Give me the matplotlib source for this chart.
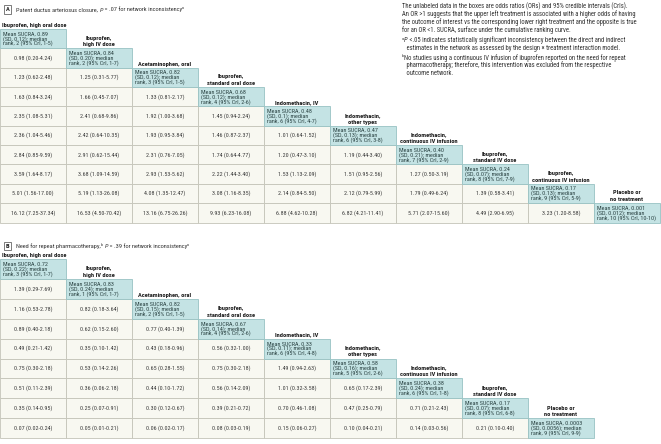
import matplotlib
matplotlib.use("Agg")
import matplotlib.pyplot as plt
from matplotlib.patches import Rectangle
from matplotlib import font_manager

entries = font_manager.fontManager.ttflist
names = set(f.name for f in entries)
STRETCH = 'normal'
FONT = 'DejaVu Sans'
for cand in ['Liberation Sans Narrow', 'Roboto Condensed', 'Open Sans Condensed', 'Noto Sans Condensed']:
    if cand in names:
        FONT = cand
        break
else:
    if any(f.name == 'DejaVu Sans' and str(f.stretch) in ('condensed', 'semi-condensed', '87.5', '75')
           for f in entries):
        STRETCH = 'condensed'

plt.rcParams['font.family'] = [FONT, 'DejaVu Sans']
plt.rcParams['font.stretch'] = STRETCH

# ---------------- data ----------------
treat_A = ["Ibuprofen, high oral dose", "Ibuprofen,\nhigh IV dose", "Acetaminophen, oral",
           "Ibuprofen,\nstandard oral dose", "Indomethacin, IV", "Indomethacin,\nother types",
           "Indomethacin,\ncontinuous IV infusion", "Ibuprofen,\nstandard IV dose",
           "Ibuprofen,\ncontinuous IV infusion", "Placebo or\nno treatment"]
sucra_A = ["0.89", "0.84", "0.82", "0.68", "0.48", "0.47", "0.40", "0.24", "0.17", "0.001"]
sd_A = ["0.12", "0.20", "0.12", "0.12", "0.1", "0.13", "0.21", "0.07", "0.13", "0.012"]
rank_A = [2, 2, 3, 4, 6, 6, 7, 8, 9, 10]
rank_lo_A = [1, 1, 1, 2, 4, 3, 2, 7, 5, 10]
rank_hi_A = [5, 7, 5, 6, 7, 8, 9, 9, 9, 10]
or_A = [
    [(0.98, 0.20, 4.24)],
    [(1.23, 0.62, 2.48), (1.25, 0.31, 5.77)],
    [(1.63, 0.84, 3.24), (1.66, 0.45, 7.07), (1.33, 0.81, 2.17)],
    [(2.35, 1.08, 5.31), (2.41, 0.68, 9.86), (1.92, 1.00, 3.68), (1.45, 0.94, 2.24)],
    [(2.36, 1.04, 5.46), (2.42, 0.64, 10.35), (1.93, 0.95, 3.84), (1.46, 0.87, 2.37), (1.01, 0.64, 1.52)],
    [(2.84, 0.85, 9.59), (2.91, 0.62, 15.44), (2.31, 0.76, 7.05), (1.74, 0.64, 4.77), (1.20, 0.47, 3.10),
     (1.19, 0.44, 3.40)],
    [(3.59, 1.64, 8.17), (3.68, 1.09, 14.59), (2.93, 1.53, 5.62), (2.22, 1.44, 3.40), (1.53, 1.13, 2.09),
     (1.51, 0.95, 2.56), (1.27, 0.50, 3.19)],
    [(5.01, 1.56, 17.00), (5.19, 1.13, 26.08), (4.08, 1.35, 12.47), (3.08, 1.16, 8.35), (2.14, 0.84, 5.50),
     (2.12, 0.79, 5.99), (1.79, 0.49, 6.24), (1.39, 0.58, 3.41)],
    [(16.12, 7.25, 37.34), (16.53, 4.50, 70.42), (13.16, 6.75, 26.26), (9.93, 6.23, 16.08), (6.88, 4.62, 10.28),
     (6.82, 4.21, 11.41), (5.71, 2.07, 15.60), (4.49, 2.90, 6.95), (3.23, 1.20, 8.58)],
]

treat_B = ["Ibuprofen, high oral dose", "Ibuprofen,\nhigh IV dose", "Acetaminophen, oral",
           "Ibuprofen,\nstandard oral dose", "Indomethacin, IV", "Indomethacin,\nother types",
           "Indomethacin,\ncontinuous IV infusion", "Ibuprofen,\nstandard IV dose",
           "Placebo or\nno treatment"]
sucra_B = ["0.72", "0.83", "0.82", "0.67", "0.33", "0.58", "0.38", "0.17", "0.0003"]
sd_B = ["0.22", "0.24", "0.15", "0.14", "0.11", "0.16", "0.24", "0.07", "0.0056"]
rank_B = [3, 1, 2, 4, 6, 5, 6, 8, 9]
rank_lo_B = [1, 1, 1, 2, 4, 2, 1, 6, 9]
rank_hi_B = [7, 7, 5, 6, 8, 6, 8, 8, 9]
or_B = [
    [(1.39, 0.29, 7.69)],
    [(1.16, 0.53, 2.78), (0.82, 0.18, 3.64)],
    [(0.89, 0.40, 2.18), (0.62, 0.15, 2.60), (0.77, 0.40, 1.39)],
    [(0.49, 0.21, 1.42), (0.35, 0.10, 1.42), (0.43, 0.18, 0.96), (0.56, 0.32, 1.00)],
    [(0.75, 0.30, 2.18), (0.53, 0.14, 2.26), (0.65, 0.28, 1.55), (0.75, 0.30, 2.18), (1.49, 0.94, 2.63)],
    [(0.51, 0.11, 2.39), (0.36, 0.06, 2.18), (0.44, 0.10, 1.72), (0.56, 0.14, 2.09), (1.01, 0.32, 3.58),
     (0.65, 0.17, 2.39)],
    [(0.35, 0.14, 0.95), (0.25, 0.07, 0.91), (0.30, 0.12, 0.67), (0.39, 0.21, 0.72), (0.70, 0.46, 1.08),
     (0.47, 0.25, 0.79), (0.71, 0.21, 2.43)],
    [(0.07, 0.02, 0.24), (0.05, 0.01, 0.21), (0.06, 0.02, 0.17), (0.08, 0.03, 0.19), (0.15, 0.06, 0.27),
     (0.10, 0.04, 0.21), (0.14, 0.03, 0.56), (0.21, 0.10, 0.40)],
]

# text runs: (text, kind) with kind in {"n": normal, "i": italic, "s": superscript}
title_A = [("Patent ductus arteriosus closure, ", "n"), ("P", "i"), (" = .07 for network inconsistency", "n"),
           ("a", "s")]
title_B = [("Need for repeat pharmacotherapy,", "n"), ("b", "s"), (" ", "n"), ("P", "i"),
           (" = .39 for network inconsistency", "n"), ("a", "s")]

notes = [
    [[("The unlabeled data in the boxes are odds ratios (ORs) and 95% credible intervals (CrIs).", "n")],
     [("An OR >1 suggests that the upper left treatment is associated with a higher odds of having", "n")],
     [("the outcome of interest vs the corresponding lower right treatment and the opposite is true", "n")],
     [("for an OR <1. SUCRA, surface under the cumulative ranking curve.", "n")]],
    [[("a", "s"), ("P", "i"), (" <.05 indicates statistically significant inconsistency between the direct and indirect", "n")],
     [("   estimates in the network as assessed by the design \u00d7 treatment interaction model.", "n")]],
    [[("b", "s"), ("No studies using a continuous IV infusion of ibuprofen reported on the need for repeat", "n")],
     [("   pharmacotherapy; therefore, this intervention was excluded from the respective", "n")],
     [("   outcome network.", "n")]],
]

# ---------------- style ----------------
W, H = 661, 444
DIAG_FC = '#c4e3e4'
DIAG_EC = '#98c2c3'
OFF_FC = '#f8f8f1'
OFF_EC = '#c4c4b8'
TXT = '#3a3a3a'
HEAD = '#1e1e1e'

fig = plt.figure(figsize=(W / 100, H / 100), dpi=100)
ax = fig.add_axes([0, 0, 1, 1])
ax.set_xlim(0, W)
ax.set_ylim(H, 0)
ax.axis('off')
renderer = fig.canvas.get_renderer()


def fit_size(sample, target_px, weight='normal', cap=None):
    t = ax.text(0, 0, sample, fontsize=10, fontweight=weight)
    w = t.get_window_extent(renderer).width
    t.remove()
    s = 10.0 * target_px / w
    return min(s, cap) if cap else s


FS_NUM = fit_size("0.98 (0.20-4.24)", 38, cap=4.8)
FS_SUC = fit_size("rank, 2 (95% CrI, 1-5)", 53, cap=4.4)
FS_HEAD = fit_size("Ibuprofen, high oral dose", 64, weight='bold', cap=4.8)
FS_TITLE = fit_size("Patent ductus arteriosus closure, P = .07 for network inconsistency", 168, cap=4.8)
FS_NOTE = fit_size("An OR >1 suggests that the upper left treatment is associated with a higher odds of having",
                   245, cap=4.8)


def draw_runs(x, ybase, runs, fs, color='#333333'):
    for txt, kind in runs:
        if kind == "s":
            t = ax.text(x, ybase - 2.3, txt, fontsize=fs * 0.62, ha='left', va='baseline', color=color)
        elif kind == "i":
            t = ax.text(x, ybase, txt, fontsize=fs, fontstyle='italic', ha='left', va='baseline', color=color)
        else:
            t = ax.text(x, ybase, txt, fontsize=fs, ha='left', va='baseline', color=color)
        x += t.get_window_extent(renderer).width + (0.4 if kind == "s" else 0.0)


def panel(label, title, ty, y0, rh, treats, sucra, sd, rank, rlo, rhi, ors, cw=66):
    ax.text(7.5, ty, label, ha='center', va='center', fontsize=4.6, fontweight='bold', color=HEAD,
            bbox=dict(boxstyle='square,pad=0.25', fc='white', ec='#666666', lw=0.6))
    draw_runs(16, ty + 2.0, title, FS_TITLE)
    n = len(treats)
    for i in range(n):
        x = i * cw
        y = y0 + i * rh
        ax.add_patch(Rectangle((x, y), cw, rh, fc=DIAG_FC, ec=DIAG_EC, lw=0.6, zorder=2))
        lines = ["Mean SUCRA, %s" % sucra[i], "(SD, %s); median" % sd[i],
                 "rank, %d (95%% CrI, %d-%d)" % (rank[i], rlo[i], rhi[i])]
        for k, ln in enumerate(lines):
            ax.text(x + 3, y + rh / 2 + (k - 1) * 4.9, ln, ha='left', va='center', fontsize=FS_SUC,
                    color='#2c4444', zorder=3)
        hl = treats[i].split("\n")
        for k, ln in enumerate(hl):
            yy = y - 3.6 - (len(hl) - 1 - k) * 6.6
            if i == 0:
                ax.text(x + 1.5, yy, ln, ha='left', va='center', fontsize=FS_HEAD, fontweight='bold',
                        color=HEAD)
            else:
                ax.text(x + cw / 2, yy, ln, ha='center', va='center', fontsize=FS_HEAD, fontweight='bold',
                        color=HEAD)
    for r, row in enumerate(ors):
        i = r + 1
        y = y0 + i * rh
        for j, (o, lo, hi) in enumerate(row):
            x = j * cw
            ax.add_patch(Rectangle((x, y), cw, rh, fc=OFF_FC, ec=OFF_EC, lw=0.6, zorder=1))
            ax.text(x + cw / 2, y + rh / 2, "%.2f (%.2f-%.2f)" % (o, lo, hi), ha='center', va='center',
                    fontsize=FS_NUM, color=TXT, zorder=3)


panel("A", title_A, 9.5, 29.0, 19.35, treat_A, sucra_A, sd_A, rank_A, rank_lo_A, rank_hi_A, or_A)
panel("B", title_B, 246.0, 259.0, 19.9, treat_B, sucra_B, sd_B, rank_B, rank_lo_B, rank_hi_B, or_B)

# notes
ny = 6.7
for para in notes:
    for runs in para:
        draw_runs(401.5, ny + 2.0, runs, FS_NOTE)
        ny += 7.7
    ny += 2.3

fig.savefig("out.png", dpi=100)
